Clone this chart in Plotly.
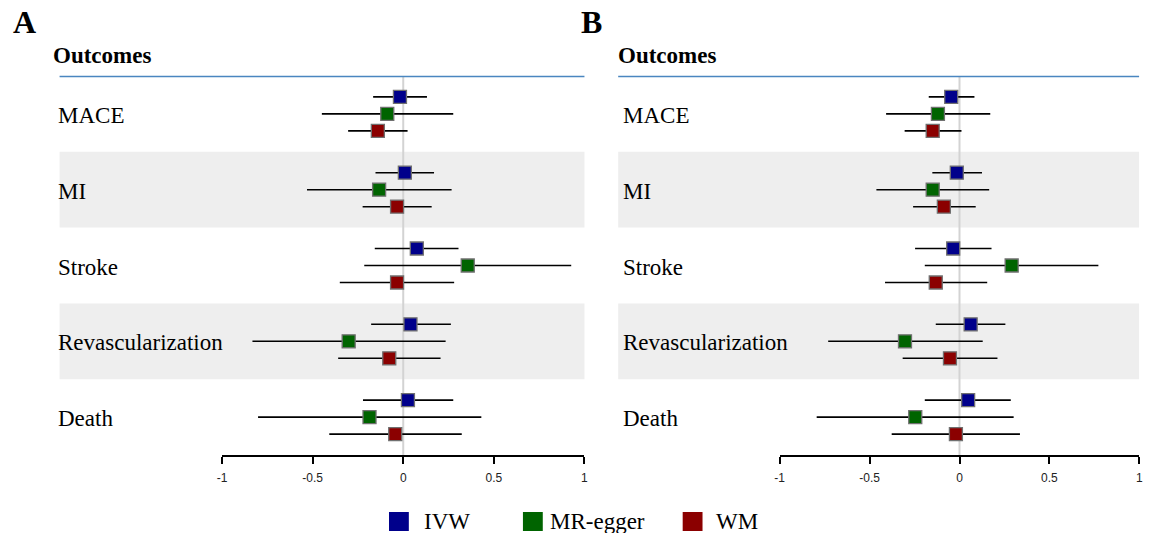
import plotly.graph_objects as go

W, H = 1155, 533

outcomes = ["MACE", "MI", "Stroke", "Revascularization", "Death"]
methods = ["IVW", "MR-egger", "WM"]
colors = ["#00008B", "#006400", "#8B0000"]
tick_vals = [-1, -0.5, 0, 0.5, 1]
tick_text = ["-1", "-0.5", "0", "0.5", "1"]

# Panel A
a_ivw_est = [-0.018, 0.009, 0.075, 0.040, 0.026]
a_ivw_lo = [-0.166, -0.153, -0.157, -0.177, -0.222]
a_ivw_hi = [0.131, 0.170, 0.305, 0.263, 0.276]
a_egger_est = [-0.088, -0.133, 0.356, -0.301, -0.186]
a_egger_lo = [-0.449, -0.531, -0.215, -0.832, -0.801]
a_egger_hi = [0.276, 0.267, 0.927, 0.234, 0.431]
a_wm_est = [-0.140, -0.034, -0.034, -0.077, -0.044]
a_wm_lo = [-0.304, -0.224, -0.350, -0.359, -0.408]
a_wm_hi = [0.024, 0.157, 0.281, 0.206, 0.323]

# Panel B
b_ivw_est = [-0.046, -0.015, -0.035, 0.062, 0.048]
b_ivw_lo = [-0.171, -0.151, -0.247, -0.132, -0.193]
b_ivw_hi = [0.083, 0.125, 0.178, 0.255, 0.285]
b_egger_est = [-0.120, -0.149, 0.290, -0.303, -0.246]
b_egger_lo = [-0.408, -0.462, -0.193, -0.730, -0.794]
b_egger_hi = [0.171, 0.165, 0.772, 0.129, 0.301]
b_wm_est = [-0.149, -0.087, -0.132, -0.053, -0.020]
b_wm_lo = [-0.305, -0.258, -0.414, -0.316, -0.377]
b_wm_hi = [0.011, 0.090, 0.154, 0.211, 0.336]

panels = {
    "A": [(a_ivw_est, a_ivw_lo, a_ivw_hi), (a_egger_est, a_egger_lo, a_egger_hi), (a_wm_est, a_wm_lo, a_wm_hi)],
    "B": [(b_ivw_est, b_ivw_lo, b_ivw_hi), (b_egger_est, b_egger_lo, b_egger_hi), (b_wm_est, b_wm_lo, b_wm_hi)],
}

offsets = [-0.224, 0.0, 0.224]

def px(x):
    return x / W

def py(y):
    return 1 - y / H

SERIF = "Liberation Serif, Times New Roman, serif"
SANS = "Liberation Sans, Arial, sans-serif"

fig = go.Figure()

axes = {"A": ("x", "y"), "B": ("x2", "y2")}
for pname, series in panels.items():
    xa, ya = axes[pname]
    for mi, (est, lo, hi) in enumerate(series):
        ys = [i + offsets[mi] for i in range(len(outcomes))]
        fig.add_trace(go.Scatter(
            x=est, y=ys, xaxis=xa, yaxis=ya, mode="markers",
            name=methods[mi], showlegend=False,
            marker=dict(symbol="square", size=13, color=colors[mi],
                        line=dict(color="#707070", width=1.3)),
            error_x=dict(type="data", symmetric=False,
                         array=[h - e for h, e in zip(hi, est)],
                         arrayminus=[e - l for e, l in zip(est, lo)],
                         width=0, thickness=1.6, color="black"),
            cliponaxis=False,
        ))

y_top_px, y_bot_px = 76, 455
ydom = [py(y_bot_px), py(y_top_px)]

xcommon = dict(range=[-1, 1], tickvals=tick_vals, ticktext=tick_text,
               showline=True, linecolor="black", linewidth=2,
               ticks="outside", ticklen=7, tickwidth=2, tickcolor="black",
               showgrid=False, zeroline=False, ticklabelstandoff=4,
               tickfont=dict(family=SANS, size=12, color="#222"))
ycommon = dict(range=[4.5, -0.5], domain=ydom, visible=False,
               showgrid=False, zeroline=False)

fig.update_layout(
    width=W, height=H, autosize=False,
    margin=dict(l=0, r=0, t=0, b=0),
    paper_bgcolor="white", plot_bgcolor="rgba(0,0,0,0)",
    xaxis=dict(domain=[px(218.7), px(584)], anchor="y", **xcommon),
    xaxis2=dict(domain=[px(780.7), px(1143.3)], anchor="y2", **xcommon),
    yaxis=dict(anchor="x", **ycommon),
    yaxis2=dict(anchor="x2", **ycommon),
    showlegend=False,
)

shapes = []
annotations = []
panel_left = {"A": 55, "B": 618}
panel_right = {"A": 584, "B": 1143}
label_x = {"A": 51, "B": 621}
head_x = {"A": 46, "B": 616}
for pname in ["A", "B"]:
    xa, ya = axes[pname]
    for i in [1, 3]:
        shapes.append(dict(type="rect", xref="paper", yref=ya,
                           x0=px(panel_left[pname]), x1=px(panel_right[pname]),
                           y0=i - 0.5, y1=i + 0.5, fillcolor="#eeeeee",
                           line=dict(width=0), layer="below"))
    shapes.append(dict(type="line", xref=xa, yref=ya, x0=0, x1=0, y0=-0.5, y1=4.5,
                       line=dict(color="#d3d3d3", width=2), layer="below"))
    shapes.append(dict(type="line", xref="paper", yref="paper",
                       x0=px(panel_left[pname]), x1=px(panel_right[pname]),
                       y0=py(76.5), y1=py(76.5),
                       line=dict(color="#4a86c0", width=1.6)))
    for i, name in enumerate(outcomes):
        annotations.append(dict(text=name, xref="paper", yref=ya,
                                x=px(label_x[pname]), y=i + 0.02, xanchor="left", yanchor="middle",
                                showarrow=False, font=dict(family=SERIF, size=23, color="black")))
    annotations.append(dict(text="<b>Outcomes</b>", xref="paper", yref="paper",
                            x=px(head_x[pname]), y=py(55), xanchor="left", yanchor="middle",
                            showarrow=False, font=dict(family=SERIF, size=23, color="black")))

annotations.append(dict(text="<b>A</b>", xref="paper", yref="paper", x=px(6), y=py(22),
                        xanchor="left", yanchor="middle", showarrow=False,
                        font=dict(family=SERIF, size=32, color="black")))
annotations.append(dict(text="<b>B</b>", xref="paper", yref="paper", x=px(579), y=py(22),
                        xanchor="left", yanchor="middle", showarrow=False,
                        font=dict(family=SERIF, size=32, color="black")))

# Legend
leg_sq_x = [387, 522, 683]
leg_txt_x = [421, 548, 716]
leg_y = 521
for mi in range(3):
    shapes.append(dict(type="rect", xref="paper", yref="paper",
                       x0=px(leg_sq_x[mi]), x1=px(leg_sq_x[mi] + 20),
                       y0=py(leg_y + 10), y1=py(leg_y - 9),
                       fillcolor=colors[mi], line=dict(width=0)))
    annotations.append(dict(text=methods[mi], xref="paper", yref="paper",
                            x=px(leg_txt_x[mi] - 1), y=py(leg_y), xanchor="left", yanchor="middle",
                            showarrow=False, font=dict(family=SERIF, size=23, color="black")))

fig.update_layout(shapes=shapes, annotations=annotations)
fig.write_html("out.html", config={"displayModeBar": False},
               post_script="document.body.style.margin='0';document.body.style.padding='0';document.body.style.overflow='hidden';")
